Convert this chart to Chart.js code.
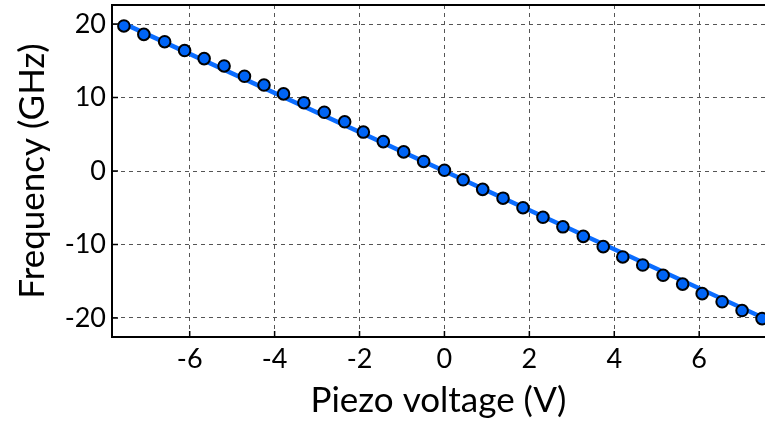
<!DOCTYPE html>
<html>
<head>
<meta charset="utf-8">
<script src="https://cdn.jsdelivr.net/npm/chart.js@4"></script>
<style>
  html, body { margin: 0; padding: 0; background: #fff; }
  #wrap { width: 765px; height: 426px; }
</style>
</head>
<body>
<div id="wrap"><canvas id="piezoChart"></canvas></div>
<script>
// measured points
const voltage = [-7.55, -7.08, -6.59, -6.12, -5.66, -5.19, -4.71, -4.25, -3.79, -3.31, -2.83,
    -2.35, -1.91, -1.44, -0.96, -0.49, 0.0, 0.44, 0.90, 1.38, 1.85, 2.32, 2.79, 3.27, 3.74,
    4.20, 4.67, 5.15, 5.61, 6.07, 6.54, 7.01, 7.48];
const frequency = [19.75, 18.6, 17.6, 16.4, 15.3, 14.3, 12.9, 11.7, 10.5, 9.3, 8.0,
    6.7, 5.3, 4.0, 2.6, 1.3, 0.1, -1.2, -2.5, -3.7, -5.0, -6.3, -7.6, -8.9, -10.3,
    -11.7, -12.8, -14.2, -15.4, -16.7, -17.8, -19.0, -20.1];

// linear fit end points
const fitVoltage = [-7.6, 7.7];
const fitFrequency = [20.2, -20.5];

const xTicks = [-6, -4, -2, 0, 2, 4, 6];
const yTicks = [-20, -10, 0, 10, 20];

const fontFamily = "Lato, 'DejaVu Sans', sans-serif";

// top frame line + short inward tick marks
const framePlugin = {
    id: 'frame',
    afterDatasetsDraw(chart) {
        const { ctx, chartArea: a, scales } = chart;
        ctx.save();
        ctx.strokeStyle = '#000';
        ctx.lineWidth = 2;
        ctx.beginPath();
        ctx.moveTo(a.left, a.top);
        ctx.lineTo(a.right, a.top);
        ctx.stroke();
        ctx.lineWidth = 1.5;
        ctx.beginPath();
        xTicks.forEach(v => {
            const px = scales.x.getPixelForValue(v);
            ctx.moveTo(px, a.bottom);
            ctx.lineTo(px, a.bottom - 6);
        });
        yTicks.forEach(v => {
            const py = scales.y.getPixelForValue(v);
            ctx.moveTo(a.left, py);
            ctx.lineTo(a.left + 6, py);
        });
        ctx.stroke();
        ctx.restore();
    }
};

new Chart(document.getElementById('piezoChart').getContext('2d'), {
    type: 'scatter',
    data: {
        datasets: [{
            label: 'fit',
            data: fitVoltage.map((v, i) => ({ x: v, y: fitFrequency[i] })),
            showLine: true,
            borderColor: '#0a6cff',
            borderWidth: 4.5,
            pointRadius: 0,
            order: 2,
        }, {
            label: 'data',
            data: voltage.map((v, i) => ({ x: v, y: frequency[i] })),
            backgroundColor: '#0064f5',
            borderColor: '#000',
            borderWidth: 2,
            pointRadius: 5.8,
            order: 1,
        }],
    },
    plugins: [framePlugin],
    options: {
        responsive: true,
        maintainAspectRatio: false,
        animation: false,
        layout: { autoPadding: false, padding: { top: 5, right: 0, left: 0, bottom: 0 } },
        plugins: {
            legend: { display: false },
            tooltip: { enabled: false },
        },
        scales: {
            x: {
                type: 'linear',
                min: -7.83,
                max: 7.55,
                afterBuildTicks: s => { s.ticks = xTicks.map(v => ({ value: v })); },
                afterFit: s => { s.height = 89; s.paddingLeft = 0; s.paddingRight = 0; },
                grid: { color: '#555', lineWidth: 1, drawTicks: false },
                border: { dash: [4, 4], color: '#000', width: 2 },
                ticks: { color: '#000', padding: 6, font: { family: fontFamily, size: 27 } },
                title: { display: true, text: 'Piezo voltage (V)', color: '#000', padding: { top: 0, bottom: 4 },
                    font: { family: fontFamily, size: 35 } },
            },
            y: {
                type: 'linear',
                min: -22.6,
                max: 22.6,
                afterBuildTicks: s => { s.ticks = yTicks.map(v => ({ value: v })); },
                afterFit: s => { s.width = 112; s.paddingTop = 0; s.paddingBottom = 0; },
                grid: { color: '#555', lineWidth: 1, drawTicks: false },
                border: { dash: [4, 4], color: '#000', width: 2 },
                ticks: { color: '#000', padding: 6, font: { family: fontFamily, size: 27 } },
                title: { display: true, text: 'Frequency (GHz)', color: '#000', padding: { top: 12, bottom: 0 },
                    font: { family: fontFamily, size: 35 } },
            }
        }
    }
});
</script>
</body>
</html>
